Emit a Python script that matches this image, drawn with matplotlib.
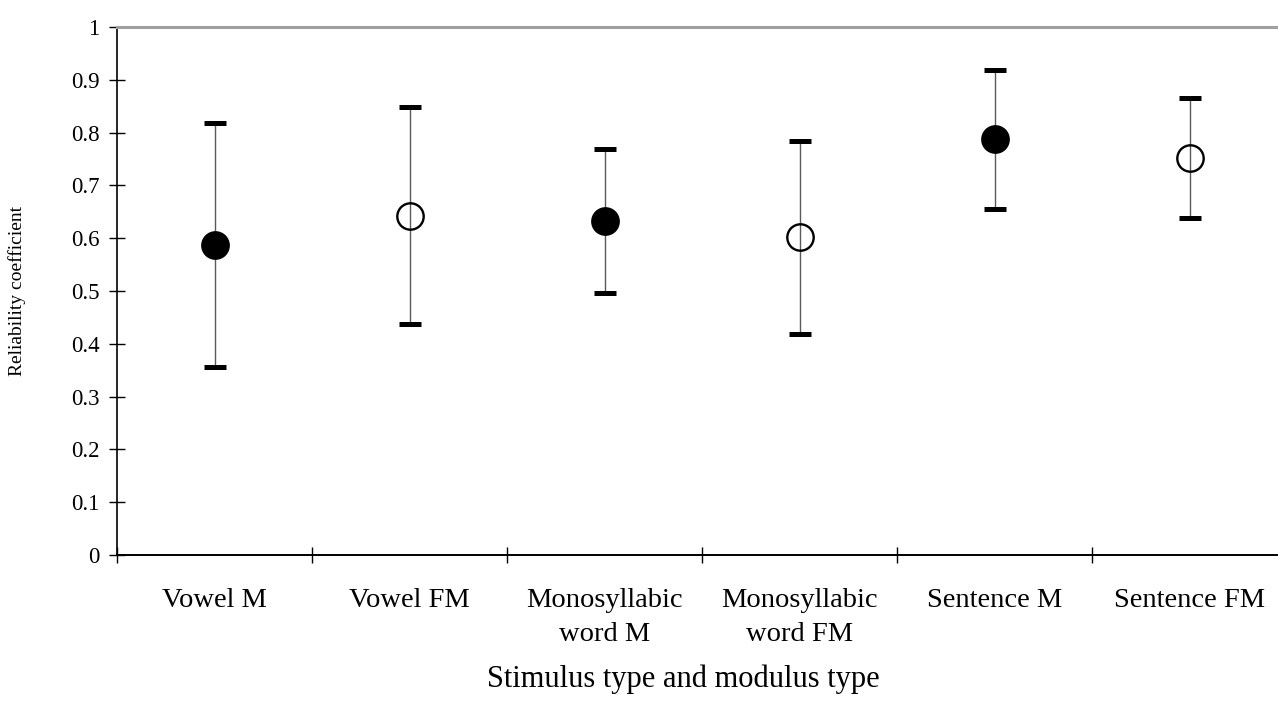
import matplotlib
matplotlib.use('Agg')
import matplotlib.pyplot as plt
import numpy as np

categories = ['Vowel M', 'Vowel FM', 'Monosyllabic\nword M', 'Monosyllabic\nword FM', 'Sentence M', 'Sentence FM']
modulus = ['M', 'FM', 'M', 'FM', 'M', 'FM']
coef = [0.587, 0.642, 0.632, 0.602, 0.787, 0.751]
ci_low = [0.356, 0.437, 0.496, 0.419, 0.656, 0.638]
ci_high = [0.818, 0.848, 0.768, 0.785, 0.919, 0.866]
yticks = [0, 0.1, 0.2, 0.3, 0.4, 0.5, 0.6, 0.7, 0.8, 0.9, 1]
ytick_labels = ['0', '0.1', '0.2', '0.3', '0.4', '0.5', '0.6', '0.7', '0.8', '0.9', '1']

plt.rcParams['font.family'] = ['Liberation Serif', 'DejaVu Serif']

fig = plt.figure(figsize=(12.78, 7.18), dpi=100)
ax = fig.add_axes([117 / 1278, 1 - 555 / 718, 1170.5 / 1278, 528 / 718])

x = np.arange(len(categories))
coef = np.array(coef)
lo = coef - np.array(ci_low)
hi = np.array(ci_high) - coef

for i in range(len(categories)):
    if modulus[i] == 'M':
        fc = 'black'
    else:
        fc = 'none'
    eb = ax.errorbar(x[i], coef[i], yerr=[[lo[i]], [hi[i]]], fmt='o', ms=19, mfc=fc, mec='black', mew=1.7,
                     ecolor='#5a5a5a', elinewidth=1.0, capsize=8.2, capthick=3.6, zorder=3)
    # caps are thick black bars
    for cap in eb[1]:
        cap.set_markeredgecolor('black')
        cap.set_markeredgewidth(3.6)
        cap.set_solid_capstyle('round')

ax.set_xlim(-0.5, len(categories) - 0.5)
ax.set_ylim(0, 1)
ax.set_yticks(yticks)
ax.set_yticklabels(ytick_labels)
ax.tick_params(axis='y', direction='inout', length=11, width=1, labelsize=16.5, pad=7, colors='black')

ax.set_xticks(np.arange(len(categories) + 1) - 0.5)
ax.set_xticklabels([])
ax.tick_params(axis='x', which='major', direction='inout', length=12, width=1)
ax.set_xticks(x, categories, minor=True)
ax.tick_params(axis='x', which='minor', length=0, labelsize=20.5, pad=24)
for t in ax.get_xticklabels(minor=True):
    t.set_linespacing(1.48)

ax.spines['top'].set_color('#a0a0a0')
ax.spines['top'].set_linewidth(2.2)
ax.spines['right'].set_visible(False)
ax.spines['left'].set_linewidth(1.2)
ax.spines['bottom'].set_linewidth(1.4)

fig.text(17 / 1278, 1 - 291 / 718, 'Reliability coefficient', rotation=90, ha='center', va='center', fontsize=14)
fig.text(683 / 1278, 1 - 679 / 718, 'Stimulus type and modulus type', ha='center', va='center', fontsize=22)

plt.savefig('out.png', dpi=100)
